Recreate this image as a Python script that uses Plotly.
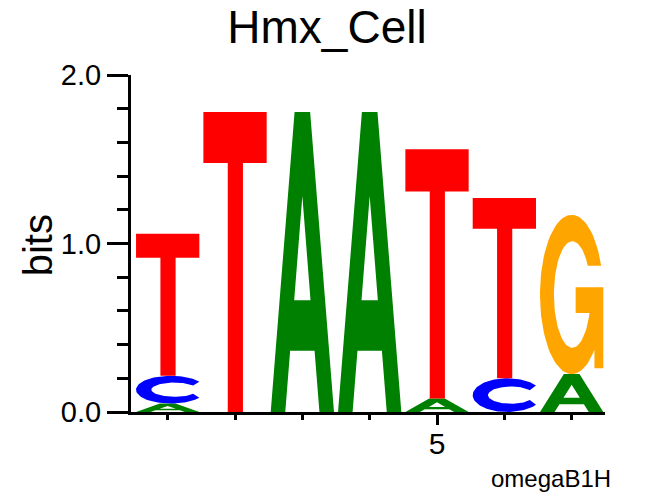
import numpy as np
import plotly.graph_objects as go

# ---------------- data ----------------
title_text = "Hmx_Cell"
footer_text = "omegaB1H"
y_axis_title = "bits"
positions = [1, 2, 3, 4, 5, 6, 7]
bits_A = [0.050, 0.0, 1.780, 1.780, 0.080, 0.0, 0.225]
bits_C = [0.165, 0.0, 0.0, 0.0, 0.0, 0.200, 0.0]
bits_G = [0.0, 0.0, 0.0, 0.0, 0.0, 0.0, 0.945]
bits_T = [0.843, 1.780, 0.0, 0.0, 1.480, 1.070, 0.0]
y_tick_vals = [0, 1, 2]
y_tick_text = ["0.0", "1.0", "2.0"]
x_tick_vals = [5]
x_tick_text = ["5"]
x_minor_vals = [1, 2, 3, 4, 6, 7]

colors = {"A": "#008000", "C": "#0000FF", "G": "#FFA500", "T": "#FF0000"}
LETTER_W = 0.94


# ---------------- glyph outlines (unit box) ----------------
def arc(cx, cy, rx, ry, a0, a1, n=80):
    t = np.radians(np.linspace(a0, a1, n))
    return list(zip(cx + rx * np.cos(t), cy + ry * np.sin(t)))


def norm_x(pts):
    xs = [p[0] for p in pts]
    lo, hi = min(xs), max(xs)
    return [((x - lo) / (hi - lo), y) for x, y in pts]


def glyph_T():
    return [(0, 1), (1, 1), (1, 0.83), (0.625, 0.83), (0.625, 0),
            (0.385, 0), (0.385, 0.83), (0, 0.83), (0, 1)]


def glyph_A():
    outer = [(0, 0), (0.377, 1), (0.623, 1), (1, 0), (0.77, 0),
             (0.693, 0.204), (0.307, 0.204), (0.23, 0), (0, 0)]
    hole = [(0.371, 0.373), (0.629, 0.373), (0.5, 0.72), (0.371, 0.373)]
    return outer + hole + [(0, 0)]


def glyph_C():
    outer = arc(0.5, 0.5, 0.5, 0.5, 35, 325)
    inner = arc(0.55, 0.5, 0.33, 0.256, 325, 35)
    pts = outer + inner
    pts.append(pts[0])
    return norm_x(pts)


def glyph_G():
    pts = []
    pts += arc(0.5, 0.5, 0.5, 0.5, np.degrees(np.arcsin(0.36)), 360 - np.degrees(np.arccos(0.72)))
    pts += [(0.86, 0.037), (1.0, 0.037), (1.0, 0.546), (0.563, 0.546),
            (0.563, 0.383), (0.79, 0.383)]
    pts += arc(0.51, 0.5, 0.29, 0.335, -20.4, -327.5)
    pts.append(pts[0])
    return norm_x(pts)


glyphs = {"A": glyph_A(), "C": glyph_C(), "G": glyph_G(), "T": glyph_T()}
columns = {"A": bits_A, "C": bits_C, "G": bits_G, "T": bits_T}

fig = go.Figure()
for i, pos in enumerate(positions):
    stack = [(b, columns[b][i]) for b in "ACGT" if columns[b][i] > 0]
    stack.sort(key=lambda s: s[1])
    y0 = 0.0
    for base, h in stack:
        g = glyphs[base]
        xs = [pos - LETTER_W / 2 + LETTER_W * ux for ux, uy in g]
        ys = [y0 + h * uy for ux, uy in g]
        fig.add_trace(go.Scatter(
            x=xs, y=ys, mode="lines", fill="toself",
            fillcolor=colors[base], line=dict(width=0, color=colors[base]),
            hoverinfo="skip", showlegend=False))
        y0 += h

FONT = "Liberation Sans, Arial, Helvetica, sans-serif"

fig.update_layout(
    width=654, height=496,
    margin=dict(l=131, r=49, t=75, b=84),
    paper_bgcolor="white", plot_bgcolor="white",
    title=dict(text=title_text, font=dict(family=FONT, size=46, color="black"),
               x=0.5, xref="container", xanchor="center",
               y=1 - 27 / 496, yref="container", yanchor="middle"),
    xaxis=dict(range=[0.455, 7.495], showgrid=False, zeroline=False,
               showline=True, linecolor="black", linewidth=3,
               ticks="outside", tickvals=x_tick_vals, ticktext=x_tick_text,
               ticklen=10, tickwidth=3, tickcolor="black",
               ticklabelstandoff=-7,
               tickfont=dict(family=FONT, size=30, color="black"),
               minor=dict(tickmode="array", tickvals=x_minor_vals, ticks="outside",
                          ticklen=5, tickwidth=3, tickcolor="black", showgrid=False)),
    yaxis=dict(range=[0, 2], showgrid=False, zeroline=False,
               showline=True, linecolor="black", linewidth=3,
               ticks="outside", tickvals=y_tick_vals, ticktext=y_tick_text,
               ticklen=21, tickwidth=3, tickcolor="black",
               tickfont=dict(family=FONT, size=29, color="black"),
               minor=dict(dtick=0.2, tick0=0, ticks="outside", ticklen=11,
                          tickwidth=3, tickcolor="black", showgrid=False)),
    annotations=[
        dict(text=y_axis_title, xref="paper", yref="paper", x=-0.196, y=0.495,
             xanchor="center", yanchor="middle", textangle=-90, showarrow=False,
             font=dict(family=FONT, size=40, color="black")),
        dict(text=footer_text, xref="paper", yref="paper", x=1.017, y=-0.197,
             xanchor="right", yanchor="middle", showarrow=False,
             font=dict(family=FONT, size=24, color="black")),
    ],
)

fig.write_html("out.html",
               config={"displayModeBar": False},
               post_script="document.body.style.margin='0px';"
                           "document.documentElement.style.margin='0px';")
